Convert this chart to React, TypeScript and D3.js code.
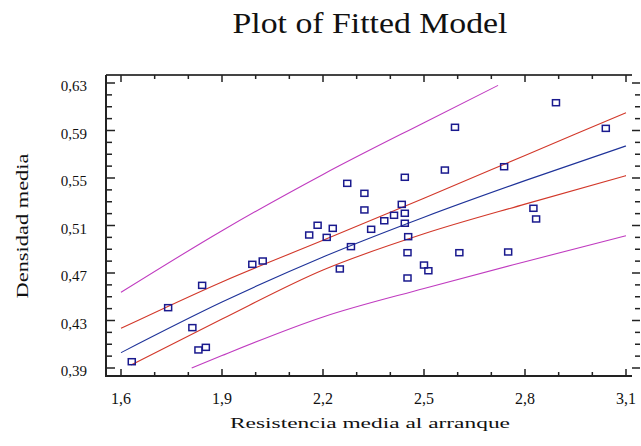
import React, { useEffect } from "react";
import * as d3 from "d3";

// axis ticks
const xTickValues = [1.6, 1.9, 2.2, 2.5, 2.8, 3.1];
const yTickValues = [0.39, 0.43, 0.47, 0.51, 0.55, 0.59, 0.63];

// observed points
const obsX = [1.632, 1.74, 1.841, 1.812, 1.83, 1.852, 1.99, 2.021, 2.159, 2.184, 2.211, 2.229, 2.25, 2.272, 2.283,
  2.323, 2.323, 2.343, 2.382, 2.411, 2.434, 2.443, 2.443, 2.443, 2.453, 2.451, 2.451, 2.5, 2.513, 2.562, 2.592,
  2.605, 2.738, 2.75, 2.825, 2.833, 2.892, 3.04];
const obsY = [0.3953, 0.4408, 0.4596, 0.424, 0.4052, 0.4074, 0.4773, 0.4801, 0.502, 0.5102, 0.5, 0.5076, 0.4734,
  0.5455, 0.4922, 0.5371, 0.5231, 0.5068, 0.514, 0.5186, 0.5278, 0.5203, 0.5119, 0.5506, 0.5006, 0.4871, 0.4658,
  0.4767, 0.4719, 0.5567, 0.5927, 0.4871, 0.5595, 0.4877, 0.5245, 0.5155, 0.6134, 0.5918];

// fitted line and limits
const fitX = [1.6, 1.9, 2.2, 2.5, 2.8, 3.1];
const fitY = [0.4029, 0.4455, 0.4835, 0.517, 0.5478, 0.577];
const confUpX = [1.6, 1.9, 2.2, 2.5, 2.8, 3.1];
const confUpY = [0.4234, 0.4625, 0.4975, 0.533, 0.569, 0.605];
const confLoX = [1.63, 1.9, 2.2, 2.5, 2.8, 3.1];
const confLoY = [0.3925, 0.4312, 0.4725, 0.503, 0.528, 0.552];
const predUpX = [1.6, 1.9, 2.2, 2.5, 2.72];
const predUpY = [0.4537, 0.5056, 0.553, 0.5966, 0.628];
const predLoX = [1.81, 1.9, 2.2, 2.5, 2.8, 3.1];
const predLoY = [0.39, 0.4005, 0.433, 0.457, 0.4795, 0.5014];

const W = 641;
const H = 446;
const left = 106, top = 75, right = 632, bottom = 376;
const serif = "'Liberation Serif', 'Times New Roman', serif";

export default function App() {
  useEffect(() => {
    document.body.style.margin = "0";
  }, []);

  const x = d3.scaleLinear().domain([1.6, 3.1]).range([121, 626]);
  const y = d3.scaleLinear().domain([0.39, 0.63]).range([368, 83]);

  const line = d3.line<[number, number]>()
    .x(d => x(d[0]))
    .y(d => y(d[1]))
    .curve(d3.curveMonotoneX);

  const zip = (xs: number[], ys: number[]) => xs.map((v, i) => [v, ys[i]] as [number, number]);

  const fmt = (f: string) => (v: number) => d3.format(f)(v).replace(".", ",");
  const fx = fmt(".1f");
  const fy = fmt(".2f");

  const xMinor = d3.range(1.6, 3.1001, 0.1);
  const yMinor = d3.range(0.39, 0.6301, 0.01);

  const curves = [
    { pts: zip(predUpX, predUpY), color: "#c03cc0" },
    { pts: zip(predLoX, predLoY), color: "#c03cc0" },
    { pts: zip(confUpX, confUpY), color: "#d2382a" },
    { pts: zip(confLoX, confLoY), color: "#d2382a" },
    { pts: zip(fitX, fitY), color: "#1f3399" },
  ];

  return (
    <svg width={W} height={H} style={{ display: "block", background: "#fff" }}>
      <text x={370} y={33} fontFamily={serif} fontSize={30} textAnchor="middle"
        textLength={275} lengthAdjust="spacingAndGlyphs" fill="#111">Plot of Fitted Model</text>

      <defs>
        <clipPath id="plotclip">
          <rect x={left} y={top} width={right - left} height={bottom - top} />
        </clipPath>
      </defs>

      <g clipPath="url(#plotclip)">
        {curves.map((c, i) => (
          <path key={i} d={line(c.pts) || ""} fill="none" stroke={c.color} strokeWidth={1.1} />
        ))}
        {obsX.map((v, i) => (
          <rect key={i} x={x(v) - 3.5} y={y(obsY[i]) - 3} width={7} height={6}
            fill="none" stroke="#1a1a8e" strokeWidth={1.5} />
        ))}
      </g>

      {/* frame */}
      <line x1={left} x2={right} y1={top} y2={top} stroke="#444" strokeWidth={2} />
      <line x1={left} x2={right} y1={bottom} y2={bottom} stroke="#222" strokeWidth={2} />
      <line x1={left} x2={left} y1={top} y2={bottom + 1} stroke="#222" strokeWidth={2} />

      {/* x ticks bottom and top */}
      {xMinor.map((v, i) => {
        const major = i % 3 === 0;
        const len = major ? 7 : 4;
        return (
          <g key={i}>
            <line x1={x(v)} x2={x(v)} y1={bottom} y2={bottom - len} stroke="#222" strokeWidth={1.5} />
            <line x1={x(v)} x2={x(v)} y1={top} y2={top + len} stroke="#222" strokeWidth={1.5} />
          </g>
        );
      })}
      {xTickValues.map(v => (
        <text key={v} x={x(v)} y={404} fontFamily={serif} fontSize={16} textAnchor="middle" fill="#111">{fx(v)}</text>
      ))}

      {/* y ticks left and right */}
      {yMinor.map((v, i) => {
        const major = i % 4 === 0;
        const len = major ? 9 : 6;
        return (
          <g key={i}>
            <line x1={left} x2={left + len} y1={y(v)} y2={y(v)} stroke="#222" strokeWidth={1.5} />
            <line x1={640} x2={640 - len + 1} y1={y(v)} y2={y(v)} stroke="#222" strokeWidth={1.5} />
          </g>
        );
      })}
      {yTickValues.map(v => (
        <text key={v} x={87} y={y(v) + 8} fontFamily={serif} fontSize={15} textAnchor="end" fill="#111">{fy(v)}</text>
      ))}

      <text transform="translate(28,226) rotate(-90)" fontFamily={serif} fontSize={17} textAnchor="middle"
        textLength={145} lengthAdjust="spacingAndGlyphs" fill="#111">Densidad media</text>
      <text x={370} y={428} fontFamily={serif} fontSize={15} textAnchor="middle"
        textLength={280} lengthAdjust="spacingAndGlyphs" fill="#111">Resistencia media al arranque</text>
    </svg>
  );
}
